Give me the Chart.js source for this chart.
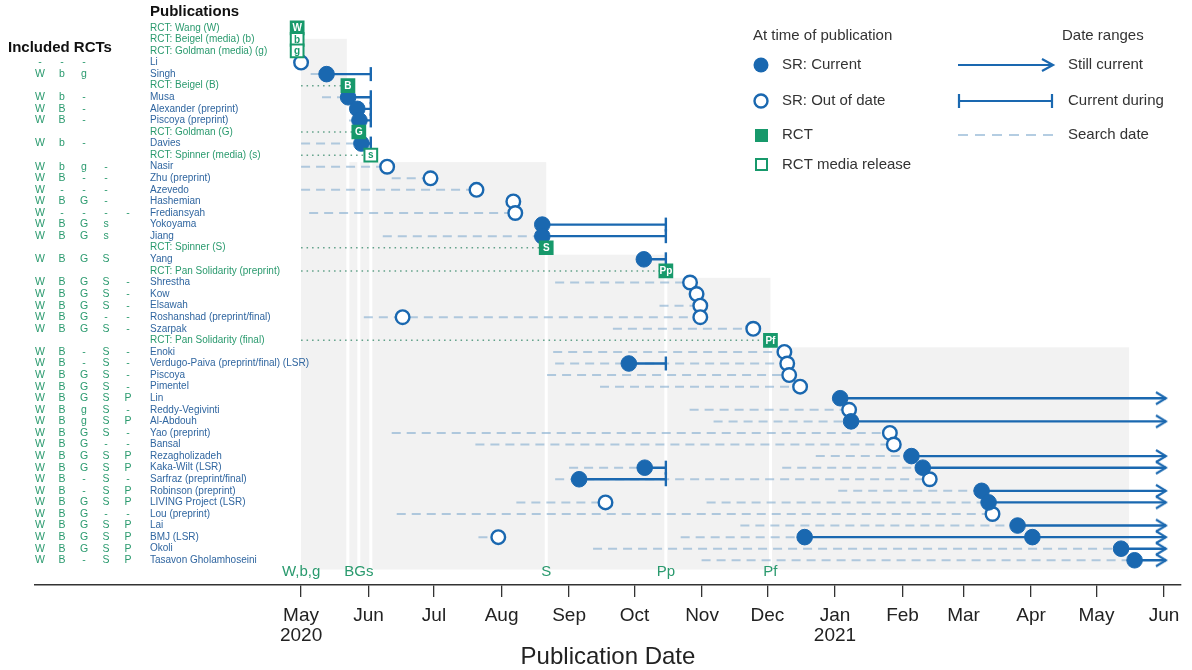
<!DOCTYPE html>
<html>
<head>
<meta charset="utf-8">
<script src="https://cdn.jsdelivr.net/npm/chart.js@4.4.1/dist/chart.umd.min.js"></script>
<style>
html,body{margin:0;padding:0;background:#fff}
#wrap{width:1192px;height:670px}
</style>
</head>
<body>
<div id="wrap"><canvas id="c" width="1192" height="670"></canvas></div>
<script>
/* all x values are days since 1 May 2020, rows count from the top */
var rowLabels = ['RCT: Wang (W)', 'RCT: Beigel (media) (b)', 'RCT: Goldman (media) (g)', 'Li', 'Singh', 'RCT: Beigel (B)',
  'Musa', 'Alexander (preprint)', 'Piscoya (preprint)', 'RCT: Goldman (G)', 'Davies', 'RCT: Spinner (media) (s)',
  'Nasir', 'Zhu (preprint)', 'Azevedo', 'Hashemian', 'Frediansyah', 'Yokoyama', 'Jiang', 'RCT: Spinner (S)', 'Yang',
  'RCT: Pan Solidarity (preprint)', 'Shrestha', 'Kow', 'Elsawah', 'Roshanshad (preprint/final)', 'Szarpak',
  'RCT: Pan Solidarity (final)', 'Enoki', 'Verdugo-Paiva (preprint/final) (LSR)', 'Piscoya', 'Pimentel', 'Lin',
  'Reddy-Vegivinti', 'Al-Abdouh', 'Yao (preprint)', 'Bansal', 'Rezagholizadeh', 'Kaka-Wilt (LSR)',
  'Sarfraz (preprint/final)', 'Robinson (preprint)', 'LIVING Project (LSR)', 'Lou (preprint)', 'Lai', 'BMJ (LSR)',
  'Okoli', 'Tasavon Gholamhoseini'];

var includedRcts = ['', '', '', '- - -', 'W b g', '', 'W b -', 'W B -', 'W B -', '', 'W b -', '',
  'W b g -', 'W B - -', 'W - - -', 'W B G -', 'W - - - -', 'W B G s', 'W B G s', '', 'W B G S', '',
  'W B G S -', 'W B G S -', 'W B G S -', 'W B G - -', 'W B G S -', '', 'W B - S -', 'W B - S -',
  'W B G S -', 'W B G S -', 'W B G S P', 'W B g S -', 'W B g S P', 'W B G S -', 'W B G - -',
  'W B G S P', 'W B G S P', 'W B - S -', 'W B - S P', 'W B G S P', 'W B G - -', 'W B G S P',
  'W B G S P', 'W B G S P', 'W B - S P'];

// [row, day, letter, full publication?]
var rctBoxes = [[0, -1.8, 'W', true], [1, -1.8, 'b', false], [2, -1.8, 'g', false], [5, 21.5, 'B', true],
  [9, 26.5, 'G', true], [11, 32, 's', false], [19, 112.5, 'S', true], [21, 167.4, 'Pp', true], [27, 215.4, 'Pf', true]];

// [row, from, to]
var searchDates = [[4, 4.4, 11.7], [6, 9.6, 21.6], [8, 22, 26.8], [10, 0, 27.7], [12, 0, 39.5], [13, 41.6, 59.4],
  [14, 0, 80.5], [16, 3.7, 98.3], [18, 37.5, 110.7], [22, 116.6, 178.5], [24, 164.5, 183.2], [25, 28.8, 46.6],
  [25, 28.8, 183.2], [26, 143.1, 207.5], [28, 115.7, 221.8], [29, 116.6, 150.4], [29, 116.6, 223.1],
  [30, 112.9, 224], [31, 137.2, 229], [33, 178.3, 251.5], [34, 189.3, 252.4], [35, 41.6, 270.2], [36, 80, 272],
  [37, 236.2, 280.1], [38, 123, 157.7], [38, 220.8, 285.3], [39, 116.6, 127.6], [39, 116.6, 288.5],
  [40, 246.5, 312.3], [41, 98.8, 139.7], [41, 186.1, 315.5], [42, 43.9, 317.3], [43, 201.6, 328.8],
  [44, 81.4, 90.5], [44, 174.2, 231.1], [45, 134, 376.3], [46, 183.8, 382.5]];

var currentDuring = [[4, 11.7, 32], [6, 21.6, 32], [7, 25.8, 32], [8, 26.8, 32], [10, 27.7, 32],
  [17, 110.7, 167.4], [18, 110.7, 167.4], [20, 157.3, 167.4], [29, 150.4, 167.4], [38, 157.7, 167.4],
  [39, 127.6, 167.4]];

// [row, from] runs on to the arrow
var stillCurrent = [[32, 247.4], [34, 252.4], [37, 280.1], [38, 285.3], [40, 312.3], [41, 315.5],
  [43, 328.8], [44, 231.1], [45, 376.3], [46, 382.5]];

// [row, day]
var srCurrent = [[4, 11.7], [6, 21.6], [7, 25.8], [8, 26.8], [10, 27.7], [17, 110.7], [18, 110.7], [20, 157.3],
  [29, 150.4], [32, 247.4], [34, 252.4], [37, 280.1], [38, 157.7], [38, 285.3], [39, 127.6], [40, 312.3],
  [41, 315.5], [43, 328.8], [44, 231.1], [44, 335.6], [45, 376.3], [46, 382.5]];

var srOutOfDate = [[3, 0], [12, 39.5], [13, 59.4], [14, 80.5], [15, 97.4], [16, 98.3], [22, 178.5], [23, 181.5],
  [24, 183.2], [25, 46.6], [25, 183.2], [26, 207.5], [28, 221.8], [29, 223.1], [30, 224], [31, 229],
  [33, 251.5], [35, 270.2], [36, 272], [39, 288.5], [41, 139.7], [42, 317.3], [44, 90.5]];

// grey periods: [from, to, top row]
var shading = [[0, 21, 0.95], [21, 112.5, 11.6], [112.5, 167.4, 19.6], [167.4, 215.4, 21.6], [215.4, 380, 27.6]];
var shadeBottom = 46.8;

var rctDateLabels = [['W,b,g', 0], ['BGs', 26.5], ['S', 112.5], ['Pp', 167.4], ['Pf', 215.4]];

var monthDays = [0, 31, 61, 92, 123, 153, 184, 214, 245, 276, 304, 335, 365, 396];
var monthNames = ['May', 'Jun', 'Jul', 'Aug', 'Sep', 'Oct', 'Nov', 'Dec', 'Jan', 'Feb', 'Mar', 'Apr', 'May', 'Jun'];
var monthYears = {0: '2020', 8: '2021'};

var arrowEnd = 396.9;

var BLUE = '#1a68b0', GREEN = '#17996b', TXTGREEN = '#2a9a6e', TXTBLUE = '#3066a0';
var DASH = 'rgba(125,168,205,0.58)';
var FONT = '"Liberation Sans", Arial, sans-serif';

function segs(list) {
  var out = [];
  list.forEach(function (s) {
    out.push({x: s[1], y: s[0]}, {x: s[2], y: s[0]}, {x: s[2], y: null});
  });
  return out;
}
function pts(list) {
  return list.map(function (p) { return {x: p[1], y: p[0]}; });
}

// open chevron for the arrow heads
var chevron = document.createElement('canvas');
chevron.width = 14; chevron.height = 16;
(function () {
  var g = chevron.getContext('2d');
  g.strokeStyle = BLUE; g.lineWidth = 2.2;
  g.beginPath(); g.moveTo(2, 2); g.lineTo(12, 8); g.lineTo(2, 14); g.stroke();
})();

var dotted = rctBoxes.filter(function (b) { return b[1] > 1; }).map(function (b) { return [b[0], 0, b[1]]; });
var arrows = stillCurrent.map(function (s) { return [s[0], s[1], arrowEnd]; });

var shadePlugin = {
  id: 'shade',
  beforeDatasetsDraw: function (chart) {
    var ctx = chart.ctx, x = chart.scales.x, y = chart.scales.y;
    var yb = y.getPixelForValue(shadeBottom);
    ctx.save();
    ctx.fillStyle = '#f2f2f2';
    shading.forEach(function (s) {
      var x0 = x.getPixelForValue(s[0]), x1 = x.getPixelForValue(s[1]), y0 = y.getPixelForValue(s[2]);
      ctx.fillRect(x0, y0, x1 - x0, yb - y0);
    });
    ctx.fillStyle = '#fff';
    rctBoxes.forEach(function (b) {
      if (b[1] <= 1) return;
      var xp = x.getPixelForValue(b[1]), y0 = y.getPixelForValue(b[0]);
      ctx.fillRect(xp - 1.5, y0, 3, yb - y0);
    });
    ctx.restore();
  }
};

function drawLegend(ctx) {
  ctx.font = '15px ' + FONT;
  ctx.fillStyle = '#333';
  ctx.textAlign = 'left';
  ctx.textBaseline = 'middle';
  ctx.fillText('At time of publication', 753, 36);
  ctx.fillText('SR: Current', 782, 65);
  ctx.fillText('SR: Out of date', 782, 101);
  ctx.fillText('RCT', 782, 135);
  ctx.fillText('RCT media release', 782, 165);
  ctx.fillText('Date ranges', 1062, 36);
  ctx.fillText('Still current', 1068, 65);
  ctx.fillText('Current during', 1068, 101);
  ctx.fillText('Search date', 1068, 135);

  ctx.fillStyle = BLUE;
  ctx.beginPath(); ctx.arc(761, 65, 7.5, 0, Math.PI * 2); ctx.fill();
  ctx.strokeStyle = BLUE; ctx.lineWidth = 2.4;
  ctx.fillStyle = '#fff';
  ctx.beginPath(); ctx.arc(761, 101, 6.5, 0, Math.PI * 2); ctx.fill(); ctx.stroke();
  ctx.fillStyle = GREEN;
  ctx.fillRect(755, 129, 13, 13);
  ctx.strokeStyle = GREEN; ctx.lineWidth = 2;
  ctx.strokeRect(756, 159, 11, 11);

  ctx.strokeStyle = BLUE; ctx.lineWidth = 2.2;
  ctx.beginPath(); ctx.moveTo(958, 65); ctx.lineTo(1052, 65); ctx.stroke();
  ctx.beginPath(); ctx.moveTo(1042, 59); ctx.lineTo(1053, 65); ctx.lineTo(1042, 71); ctx.stroke();
  ctx.beginPath(); ctx.moveTo(958, 101); ctx.lineTo(1053, 101); ctx.stroke();
  ctx.beginPath(); ctx.moveTo(959, 94); ctx.lineTo(959, 108); ctx.moveTo(1052, 94); ctx.lineTo(1052, 108); ctx.stroke();
  ctx.strokeStyle = DASH; ctx.setLineDash([10, 7]);
  ctx.beginPath(); ctx.moveTo(958, 135); ctx.lineTo(1053, 135); ctx.stroke();
  ctx.setLineDash([]);
}

var textPlugin = {
  id: 'texts',
  afterDatasetsDraw: function (chart) {
    var ctx = chart.ctx, x = chart.scales.x, y = chart.scales.y;
    ctx.save();
    ctx.textBaseline = 'middle';
    ctx.font = 'bold 15px ' + FONT;
    ctx.fillStyle = '#111';
    ctx.textAlign = 'left';
    ctx.fillText('Publications', 150, 12);
    ctx.fillText('Included RCTs', 8, 48);

    rowLabels.forEach(function (lab, i) {
      var yp = y.getPixelForValue(i);
      var isRct = lab.indexOf('RCT:') === 0;
      ctx.font = '10px ' + FONT;
      ctx.textAlign = 'left';
      ctx.fillStyle = isRct ? TXTGREEN : TXTBLUE;
      ctx.fillText(lab, 150, yp);
      if (includedRcts[i]) {
        ctx.fillStyle = TXTGREEN;
        ctx.textAlign = 'center';
        ctx.font = '10.5px ' + FONT;
        includedRcts[i].split(' ').forEach(function (t, k) {
          ctx.fillText(t, 40 + k * 22, yp);
        });
      }
    });

    ctx.textAlign = 'center';
    ctx.font = 'bold 10px ' + FONT;
    rctBoxes.forEach(function (b) {
      ctx.fillStyle = b[3] ? '#fff' : GREEN;
      ctx.fillText(b[2], x.getPixelForValue(b[1]), y.getPixelForValue(b[0]) + 0.5);
    });

    ctx.font = '15px ' + FONT;
    ctx.fillStyle = TXTGREEN;
    rctDateLabels.forEach(function (l) {
      ctx.fillText(l[0], x.getPixelForValue(l[1]), y.getPixelForValue(47));
    });

    drawLegend(ctx);
    ctx.restore();
  }
};

function lineSet(data, color, width, dash, order) {
  return {type: 'line', data: segs(data), borderColor: color, borderWidth: width, borderDash: dash,
    pointRadius: 0, spanGaps: false, fill: false, order: order};
}

new Chart(document.getElementById('c'), {
  type: 'scatter',
  data: {
    datasets: [
      lineSet(searchDates, DASH, 2, [9, 6], 10),
      lineSet(dotted, 'rgba(60,140,110,0.8)', 1.5, [1.5, 4], 9),
      lineSet(currentDuring, BLUE, 2.4, [], 8),
      lineSet(arrows, BLUE, 2.4, [], 8),
      {data: currentDuring.map(function (s) { return {x: s[2], y: s[0]}; }), pointStyle: 'line', rotation: 90,
        pointRadius: 7, borderColor: BLUE, borderWidth: 2.4, order: 7},
      {data: stillCurrent.map(function (s) { return {x: arrowEnd - 2.3, y: s[0]}; }), pointStyle: chevron,
        order: 7},
      {data: pts(srOutOfDate), pointStyle: 'circle', pointRadius: 6.8, backgroundColor: '#fff',
        borderColor: BLUE, borderWidth: 2.4, order: 6},
      {data: pts(srCurrent), pointStyle: 'circle', pointRadius: 7.8, backgroundColor: BLUE,
        borderColor: BLUE, borderWidth: 1, order: 5},
      {data: pts(rctBoxes), pointStyle: 'rect', pointRadius: 9,
        backgroundColor: rctBoxes.map(function (b) { return b[3] ? GREEN : '#fff'; }),
        borderColor: GREEN, borderWidth: 2, order: 4}
    ]
  },
  options: {
    responsive: false,
    animation: false,
    events: [],
    layout: {padding: {left: 35, right: 7, top: 5, bottom: 0}},
    plugins: {legend: {display: false}, tooltip: {enabled: false}},
    scales: {
      x: {
        type: 'linear', min: -122.1, max: 403.8,
        afterBuildTicks: function (scale) {
          scale.ticks = monthDays.map(function (d) { return {value: d}; });
        },
        afterFit: function (scale) {
          scale.height = 85;
          scale.paddingLeft = 0;
          scale.paddingRight = 0;
        },
        grid: {drawOnChartArea: false, drawTicks: true, tickLength: 12, color: '#333', lineWidth: 1.3},
        border: {display: true, color: '#333', width: 1.6},
        ticks: {
          autoSkip: false, maxRotation: 0, minRotation: 0, padding: 9, color: '#222',
          font: {family: FONT, size: 19, lineHeight: 1.05},
          callback: function (v) {
            var i = monthDays.indexOf(v);
            return monthYears[i] ? [monthNames[i], monthYears[i]] : monthNames[i];
          }
        },
        title: {display: true, text: 'Publication Date', color: '#222', padding: {top: 0, bottom: -2},
          font: {family: FONT, size: 24}}
      },
      y: {type: 'linear', display: false, reverse: true, min: -1.4535, max: 48.136}
    }
  },
  plugins: [shadePlugin, textPlugin]
});
</script>
</body>
</html>
